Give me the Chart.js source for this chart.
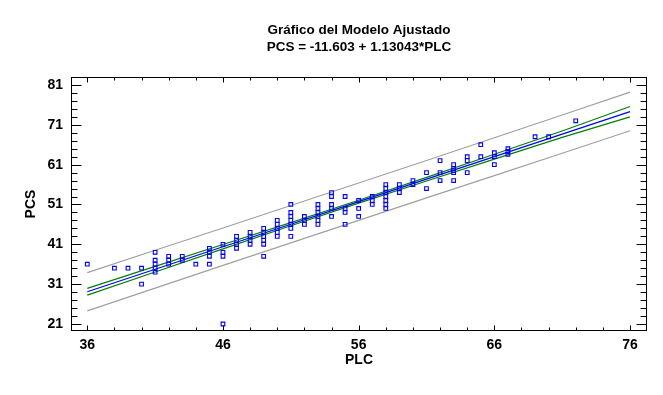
<!DOCTYPE html>
<html>
<head>
<meta charset="utf-8">
<script src="https://cdn.jsdelivr.net/npm/chart.js@4.4.0/dist/chart.umd.min.js"></script>
<style>
html, body { margin: 0; padding: 0; background: #fff; }
#contenedor { width: 663px; height: 395px; }
</style>
</head>
<body>
<div id="contenedor"><canvas id="grafico"></canvas></div>
<script>
// puntos observados (PLC, PCS)
const plc = [36, 38, 39, 40, 40,
	41, 41, 41, 41, 41, 42, 42, 42, 43, 43, 44,
	45, 45, 45, 45, 46, 46, 46, 46,
	47, 47, 47, 47, 48, 48, 48, 48,
	49, 49, 49, 49, 49, 49, 50, 50, 50, 50, 50,
	51, 51, 51, 51, 51, 51, 51, 52, 52, 52,
	53, 53, 53, 53, 53, 53, 54, 54, 54, 54, 54,
	55, 55, 55, 55, 56, 56, 56, 57, 57, 57,
	58, 58, 58, 58, 58, 58, 58, 59, 59, 59, 60, 60, 61, 61,
	62, 62, 62, 63, 63, 63, 63, 63, 64, 64, 64, 65, 65,
	66, 66, 66, 67, 67, 67, 69, 70, 72];
const pcs = [36, 35, 35, 35, 31,
	39, 37, 36, 35, 34, 38, 37, 36, 38, 37, 36,
	40, 39, 38, 36, 41, 39, 38, 21,
	43, 42, 41, 40, 44, 43, 42, 41,
	45, 44, 43, 42, 41, 38, 47, 46, 45, 44, 43,
	51, 49, 48, 47, 46, 45, 43, 48, 47, 46,
	51, 50, 49, 48, 47, 46, 54, 53, 51, 50, 48,
	53, 50, 49, 46, 52, 50, 48, 53, 52, 51,
	56, 55, 54, 53, 52, 51, 50, 56, 55, 54, 57, 56, 59, 55,
	62, 59, 57, 61, 60, 59.5, 59, 57, 63, 62, 59, 66, 63,
	64, 63, 61, 65, 64.3, 63.6, 68, 68, 72];

// recta ajustada y bandas
const xBanda = [36, 41, 46, 51, 56, 61, 66, 71, 76];
const ajuste = [29.09, 34.74, 40.40, 46.05, 51.70, 57.35, 63.00, 68.66, 74.31];
const confSup = [29.95, 35.45, 40.95, 46.45, 52.05, 57.80, 63.60, 69.45, 75.60];
const confInf = [28.25, 34.05, 39.85, 45.65, 51.35, 56.90, 62.40, 67.85, 73.00];
const predSup = [33.9, 39.5, 45.1, 50.75, 56.4, 62.05, 67.75, 73.45, 79.2];
const predInf = [24.3, 30.0, 35.7, 41.35, 47.0, 52.65, 58.25, 63.85, 69.5];

const xTicks = [36, 46, 56, 66, 76];
const yTicks = [21, 31, 41, 51, 61, 71, 81];

const fuente = "'Liberation Sans', Arial, sans-serif";

function serie(ys){
	return xBanda.map((x, i) => ({x: x, y: ys[i]}));
}

function linea(ys, color){
	return {
		type: 'line',
		data: serie(ys),
		borderColor: color,
		borderWidth: 1.2,
		pointRadius: 0,
		tension: 0,
		fill: false
	};
}

// marco, marcas interiores y textos
const marco = {
	id: 'marco',
	afterDraw(chart){
		const ctx = chart.ctx;
		const a = chart.chartArea;
		const sx = chart.scales.x;
		const sy = chart.scales.y;
		const l = Math.round(a.left) + 0.5, r = Math.round(a.right) - 0.5;
		const t = Math.round(a.top) + 0.5, b = Math.round(a.bottom) - 0.5;
		ctx.save();
		ctx.strokeStyle = '#000';
		ctx.lineWidth = 1;
		ctx.strokeRect(l, t, r - l, b - t);
		ctx.beginPath();
		for (let v = 36; v <= 76; v += 2) {
			const px = Math.round(sx.getPixelForValue(v)) + 0.5;
			const len = ((v - 36) % 10 == 0) ? 5 : 3;
			ctx.moveTo(px, b); ctx.lineTo(px, b - len);
			ctx.moveTo(px, t); ctx.lineTo(px, t + len);
		}
		for (let v = 21; v <= 81; v += 2) {
			const py = Math.round(sy.getPixelForValue(v)) + 0.5;
			const len = ((v - 21) % 10 == 0) ? 10 : 6;
			ctx.moveTo(l, py); ctx.lineTo(l + len, py);
			ctx.moveTo(r, py); ctx.lineTo(r - len, py);
		}
		ctx.stroke();

		const cx = (a.left + a.right) / 2;
		ctx.fillStyle = '#000';
		ctx.textAlign = 'center';
		ctx.textBaseline = 'alphabetic';
		ctx.font = "bold 13.5px " + fuente;
		ctx.fillText('Gráfico del Modelo Ajustado', cx, 34);
		ctx.fillText('PCS = -11.603 + 1.13043*PLC', cx, 51);
		ctx.font = "bold 14px " + fuente;
		ctx.fillText('PLC', cx, 364);
		ctx.translate(35, (a.top + a.bottom) / 2);
		ctx.rotate(-Math.PI / 2);
		ctx.fillText('PCS', 0, 0);
		ctx.restore();
	}
};

new Chart(document.getElementById('grafico'), {
	data: {
		datasets: [{
			type: 'scatter',
			data: plc.map((x, i) => ({x: x, y: pcs[i]})),
			pointStyle: 'rect',
			pointRadius: 2.6,
			pointBorderWidth: 1.1,
			pointBorderColor: '#0000ff',
			pointBackgroundColor: 'rgba(0,0,0,0)'
		},
			linea(ajuste, '#0000ff'),
			linea(confSup, '#008000'),
			linea(confInf, '#008000'),
			linea(predSup, '#a0a0a0'),
			linea(predInf, '#a0a0a0')
		]
	},
	options: {
		responsive: true,
		maintainAspectRatio: false,
		animation: false,
		devicePixelRatio: 1,
		layout: { padding: { left: 0, right: 16, top: 77, bottom: 0 } },
		plugins: {
			legend: { display: false },
			tooltip: { enabled: false }
		},
		scales: {
			x: {
				type: 'linear',
				min: 34.8,
				max: 77.25,
				afterBuildTicks: s => { s.ticks = xTicks.map(v => ({value: v})); },
				afterFit: s => { s.height = 64; },
				grid: { display: false, drawTicks: false },
				border: { display: false },
				ticks: {
					autoSkip: false, maxRotation: 0, padding: 6,
					color: '#000',
					font: { family: fuente, size: 14, weight: 'bold' }
				}
			},
			y: {
				type: 'linear',
				min: 19.24,
				max: 83.0,
				afterBuildTicks: s => { s.ticks = yTicks.map(v => ({value: v})); },
				afterFit: s => { s.width = 71; },
				grid: { display: false, drawTicks: false },
				border: { display: false },
				ticks: {
					autoSkip: false, padding: 8,
					color: '#000',
					font: { family: fuente, size: 14, weight: 'bold' }
				}
			}
		}
	},
	plugins: [marco]
});
</script>
</body>
</html>
